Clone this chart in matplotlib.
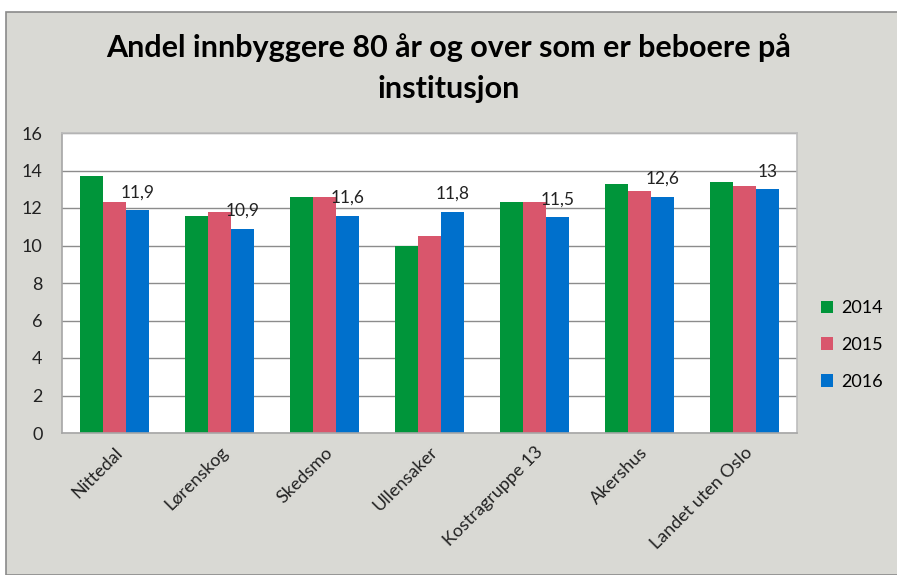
#!/usr/bin/env python3
"""Andel innbyggere 80 år og over som er beboere på institusjon."""

import matplotlib.pyplot as plt
import numpy as np
from matplotlib.patches import Rectangle

categories = ["Nittedal", "Lørenskog", "Skedsmo", "Ullensaker",
              "Kostragruppe 13", "Akershus", "Landet uten Oslo"]
years = ["2014", "2015", "2016"]
values_2014 = [13.7, 11.6, 12.6, 10.0, 12.3, 13.3, 13.4]
values_2015 = [12.3, 11.8, 12.6, 10.5, 12.3, 12.9, 13.2]
values_2016 = [11.9, 10.9, 11.6, 11.8, 11.5, 12.6, 13.0]
labels_2016 = ["11,9", "10,9", "11,6", "11,8", "11,5", "12,6", "13"]
colors = ["#00953a", "#d9566c", "#0070cc"]

plt.rcParams["font.family"] = ["Lato", "DejaVu Sans"]

fig = plt.figure(figsize=(8.97, 5.75), dpi=100, facecolor="white")
bg = "#d9d9d4"
frame = Rectangle((6 / 897, 0), 1.0, 1 - 12 / 575,
                  transform=fig.transFigure, facecolor=bg,
                  edgecolor="#8a8a8a", linewidth=1.2, zorder=-10)
fig.patches.append(frame)

ax = fig.add_axes([62 / 897, 1 - 433 / 575, 735 / 897, 300 / 575], zorder=5)
ax.set_facecolor("white")

x = np.arange(len(categories))
width = 0.22
series = [values_2014, values_2015, values_2016]
bars = []
for i, (vals, year, color) in enumerate(zip(series, years, colors)):
    b = ax.bar(x + (i - 1) * width, vals, width, color=color, label=year,
               zorder=2)
    bars.append(b)

ax.bar_label(bars[2], labels=labels_2016, padding=7, fontsize=12.5,
             color="#222222")

ax.set_ylim(0, 16)
ax.set_yticks(range(0, 17, 2))
ax.set_xlim(-0.5, len(categories) - 0.5)
ax.set_xticks(x)
ax.set_xticklabels(categories, rotation=45, ha="right",
                   rotation_mode="anchor", fontsize=13, color="#222222")
ax.tick_params(axis="y", labelsize=13, length=0, pad=14, labelcolor="#222222")
ax.tick_params(axis="x", length=0, pad=8)
ax.grid(axis="y", color="#8c8c8c", linewidth=1.0, zorder=1)
for side, spine in ax.spines.items():
    spine.set_color("#bdbdbd" if side in ("top", "right") else "#a6a6a6")
    spine.set_linewidth(1.2)

fig.text(0.5, 1 - 68 / 575, "Andel innbyggere 80 år og over som er beboere på\ninstitusjon",
         ha="center", va="center", fontsize=22, fontweight="bold",
         linespacing=1.55, color="black")

ax.legend(loc="center left", bbox_to_anchor=(1.01, 0.293), frameon=False,
          fontsize=13, handlelength=0.7, handleheight=0.7,
          labelspacing=1.15, handletextpad=0.45)

fig.savefig("out.png", dpi=100, facecolor=fig.get_facecolor())
